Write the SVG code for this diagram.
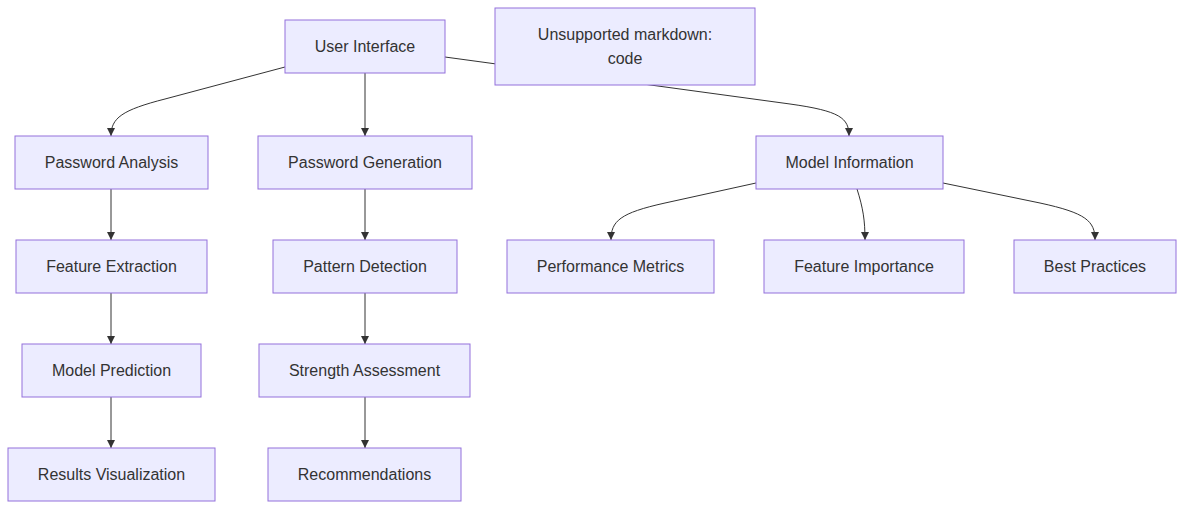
<svg xmlns="http://www.w3.org/2000/svg" width="1185" height="510" viewBox="0 0 1185 510">
<style>
.node rect{fill:#ECECFF;stroke:#9370DB;stroke-width:1}
.node text{font-family:"Liberation Sans",Arial,sans-serif;font-size:16px;fill:#333;text-anchor:middle;dominant-baseline:central}
.edges path{fill:none;stroke:#333;stroke-width:1}
</style>
<defs>
<marker id="arr" viewBox="0 0 10 10" refX="10" refY="5" markerWidth="8" markerHeight="8" markerUnits="userSpaceOnUse" orient="auto">
<path d="M0,0 L10,5 L0,10 z" fill="#333"/>
</marker>
</defs>
<rect width="1185" height="510" fill="#fff"/>
<g class="edges">
<path d="M285,67 L165,99 C122,110 111,118 111,136" marker-end="url(#arr)"/>
<path d="M365,73 L365,136" marker-end="url(#arr)"/>
<path d="M445,57 L790,104 C840,111 849,118 849,136" marker-end="url(#arr)"/>
<path d="M111,189 L111,240" marker-end="url(#arr)"/>
<path d="M111,293 L111,344" marker-end="url(#arr)"/>
<path d="M111,397 L111,448" marker-end="url(#arr)"/>
<path d="M365,189 L365,240" marker-end="url(#arr)"/>
<path d="M365,293 L365,344" marker-end="url(#arr)"/>
<path d="M365,397 L365,448" marker-end="url(#arr)"/>
<path d="M756,183 L665,203 C620,213 611,221 611,240" marker-end="url(#arr)"/>
<path d="M857,189 C863,208 865,220 865,240" marker-end="url(#arr)"/>
<path d="M943,183 L1040,203 C1086,213 1095,221 1095,240" marker-end="url(#arr)"/>
</g>
<g id="ui" class="node"><rect x="285" y="20" width="160" height="53"/><text x="365" y="46.5">User Interface</text></g>
<g id="md" class="node"><rect x="495" y="8" width="260" height="77"/><text x="625" y="34.5">Unsupported markdown:</text><text x="625" y="58.5">code</text></g>
<g id="pa" class="node"><rect x="15" y="136" width="193" height="53"/><text x="111.5" y="162.5">Password Analysis</text></g>
<g id="pg" class="node"><rect x="258" y="136" width="214" height="53"/><text x="365" y="162.5">Password Generation</text></g>
<g id="mi" class="node"><rect x="756" y="136" width="187" height="53"/><text x="849.5" y="162.5">Model Information</text></g>
<g id="fe" class="node"><rect x="16" y="240" width="191" height="53"/><text x="111.5" y="266.5">Feature Extraction</text></g>
<g id="pd" class="node"><rect x="273" y="240" width="184" height="53"/><text x="365" y="266.5">Pattern Detection</text></g>
<g id="pm" class="node"><rect x="507" y="240" width="207" height="53"/><text x="610.5" y="266.5">Performance Metrics</text></g>
<g id="fi" class="node"><rect x="764" y="240" width="200" height="53"/><text x="864" y="266.5">Feature Importance</text></g>
<g id="bp" class="node"><rect x="1014" y="240" width="162" height="53"/><text x="1095" y="266.5">Best Practices</text></g>
<g id="mp" class="node"><rect x="22" y="344" width="179" height="53"/><text x="111.5" y="370.5">Model Prediction</text></g>
<g id="sa" class="node"><rect x="259" y="344" width="211" height="53"/><text x="364.5" y="370.5">Strength Assessment</text></g>
<g id="rv" class="node"><rect x="8" y="448" width="207" height="53"/><text x="111.5" y="474.5">Results Visualization</text></g>
<g id="rc" class="node"><rect x="268" y="448" width="193" height="53"/><text x="364.5" y="474.5">Recommendations</text></g>
</svg>
